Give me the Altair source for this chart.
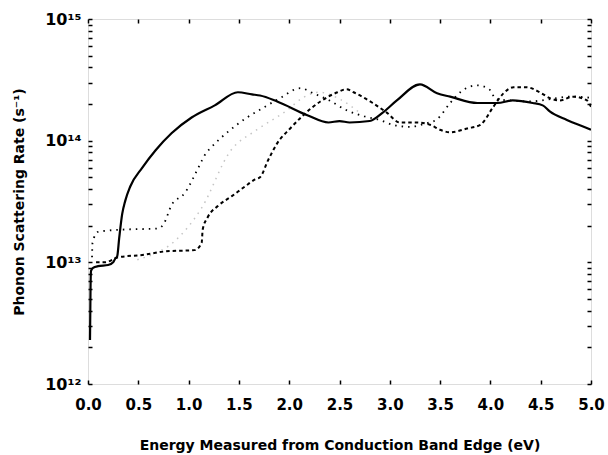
import altair as alt
import pandas as pd

# ---- data ----
solid_e = [0.02, 0.025, 0.03, 0.05, 0.10, 0.20, 0.25, 0.27, 0.29, 0.31, 0.34, 0.37, 0.42, 0.54, 0.67,
           0.83, 1.03, 1.26, 1.49, 1.63, 1.71, 1.88, 2.18, 2.39, 2.50, 2.60, 2.80, 2.93, 3.07, 3.30,
           3.47, 3.60, 3.87, 4.07, 4.22, 4.42, 4.52, 4.59, 4.76, 4.97, 5.00]
solid_r = [2.3e12, 6.0e12, 8.5e12, 9.0e12, 9.3e12, 9.5e12, 1.0e13, 1.07e13, 1.12e13, 1.58e13, 2.5e13,
           3.2e13, 4.2e13, 6.0e13, 8.3e13, 1.15e14, 1.55e14, 1.95e14, 2.5e14, 2.4e14, 2.35e14, 2.1e14,
           1.62e14, 1.41e14, 1.45e14, 1.41e14, 1.45e14, 1.7e14, 2.14e14, 2.9e14, 2.45e14, 2.3e14,
           2.04e14, 2.04e14, 2.14e14, 2.04e14, 1.95e14, 1.74e14, 1.48e14, 1.26e14, 1.23e14]

dotted_e = [0.04, 0.045, 0.10, 0.30, 0.70, 0.75, 0.83, 0.96, 1.11, 1.16, 1.23, 1.39, 1.58, 1.74, 1.91,
            2.11, 2.24, 2.40, 2.57, 2.75, 2.90, 3.03, 3.20, 3.35, 3.47, 3.60, 3.70, 3.87, 4.00, 4.05,
            4.20, 4.40, 4.60, 4.80, 5.00]
dotted_r = [1.1e13, 1.45e13, 1.78e13, 1.85e13, 1.9e13, 2.05e13, 2.95e13, 3.7e13, 6.3e13, 7.6e13, 8.9e13,
            1.18e14, 1.55e14, 1.86e14, 2.24e14, 2.7e14, 2.45e14, 2.14e14, 1.78e14, 1.58e14, 1.48e14,
            1.35e14, 1.3e14, 1.38e14, 1.5e14, 2.04e14, 2.5e14, 2.85e14, 2.6e14, 2.2e14, 2.14e14,
            2.1e14, 2.2e14, 2.3e14, 2.25e14]

dashed_e = [0.08, 0.17, 0.30, 0.54, 0.77, 1.06, 1.13, 1.14, 1.19, 1.29, 1.43, 1.56, 1.66, 1.71, 1.79,
            1.88, 2.01, 2.14, 2.31, 2.48, 2.57, 2.64, 2.83, 2.97, 3.10, 3.27, 3.40, 3.50, 3.60, 3.77,
            3.90, 4.03, 4.13, 4.23, 4.36, 4.49, 4.59, 4.69, 4.82, 4.96, 5.00]
dashed_r = [1.0e13, 1.0e13, 1.1e13, 1.15e13, 1.23e13, 1.26e13, 1.45e13, 1.86e13, 2.35e13, 2.9e13, 3.5e13,
            4.2e13, 4.8e13, 5.0e13, 6.9e13, 9.5e13, 1.26e14, 1.62e14, 2.1e14, 2.5e14, 2.65e14, 2.5e14,
            2.04e14, 1.7e14, 1.41e14, 1.41e14, 1.35e14, 1.23e14, 1.17e14, 1.26e14, 1.35e14, 1.9e14,
            2.45e14, 2.75e14, 2.75e14, 2.5e14, 2.24e14, 2.14e14, 2.3e14, 2.14e14, 1.9e14]

faint_e = [0.49, 0.90, 1.13, 1.41, 1.68, 1.98, 2.13, 2.30, 2.50, 2.70]
faint_r = [1.05e13, 1.6e13, 2.8e13, 8.1e13, 1.23e14, 1.78e14, 2.24e14, 2.5e14, 2.2e14, 1.7e14]

x_ticks = [0.0, 0.5, 1.0, 1.5, 2.0, 2.5, 3.0, 3.5, 4.0, 4.5, 5.0]
y_major = [1e12, 1e13, 1e14, 1e15]
y_minor = [m * d for d in [1e12, 1e13, 1e14] for m in range(2, 10)]

rows = []
for name, es, rs in [("solid", solid_e, solid_r), ("dotted", dotted_e, dotted_r),
                     ("dashed", dashed_e, dashed_r), ("faint", faint_e, faint_r)]:
    for i, (e, r) in enumerate(zip(es, rs)):
        rows.append({"series": name, "E": e, "rate": r, "i": i})
df = pd.DataFrame(rows)

W, H = 503, 365
FONT = "DejaVu Sans"

xs = alt.Scale(domain=[0, 5], nice=False, zero=False)
ys = alt.Scale(type="log", domain=[1e12, 1e15], nice=False)

base = alt.Chart(df)

def series(name, color, width, dash=None):
    kw = dict(color=color, strokeWidth=width, clip=True, interpolate="monotone")
    if dash:
        kw["strokeDash"] = dash
    return base.transform_filter(alt.datum.series == name).mark_line(**kw).encode(
        x=alt.X("E:Q", scale=xs, axis=None),
        y=alt.Y("rate:Q", scale=ys, axis=None),
        order="i:Q",
    )

label_expr = ("datum.value > 5e14 ? '10¹⁵' : datum.value > 5e13 ? '10¹⁴' : "
              "datum.value > 5e12 ? '10¹³' : '10¹²'")

main = base.mark_point(opacity=0).encode(
    x=alt.X("E:Q", scale=xs, axis=alt.Axis(
        orient="bottom", values=x_ticks, format=".1f", ticks=False, domain=False, grid=False,
        labelFlush=False, labelOverlap=False,
        labelFont=FONT, labelFontSize=15, labelFontWeight="bold", labelPadding=13, labelColor="black",
        title="Energy Measured from Conduction Band Edge (eV)", titleFont=FONT, titleFontSize=14,
        titleFontWeight="bold", titlePadding=26, titleColor="black")),
    y=alt.Y("rate:Q", scale=ys, axis=alt.Axis(
        orient="left", values=y_major, labelExpr=label_expr, ticks=False, domain=False, grid=False,
        labelFlush=False, labelOverlap=False,
        labelFont=FONT, labelFontSize=16, labelFontWeight="bold", labelPadding=7, labelColor="black",
        title="Phonon Scattering Rate (s⁻¹)", titleFont=FONT, titleFontSize=14,
        titleFontWeight="bold", titlePadding=18, titleColor="black")),
)

tick_common = dict(labels=False, domain=False, grid=False, ticks=True, tickColor="black",
                   tickWidth=1.5, tickSize=4, title=None)

ticks_a = base.mark_point(opacity=0).encode(
    x=alt.X("E:Q", scale=xs, axis=alt.Axis(orient="top", offset=-H, values=x_ticks, **tick_common)),
    y=alt.Y("rate:Q", scale=ys, axis=alt.Axis(orient="right", offset=-W, values=y_major + y_minor, **tick_common)),
)
ticks_b = base.mark_point(opacity=0).encode(
    x=alt.X("E:Q", scale=xs, axis=alt.Axis(orient="bottom", offset=-H, values=x_ticks, **tick_common)),
    y=alt.Y("rate:Q", scale=ys, axis=alt.Axis(orient="left", offset=-W, values=y_major + y_minor, **tick_common)),
)

chart = alt.layer(
    main, ticks_a, ticks_b,
    series("faint", "#c4c4c4", 1.5, [1.5, 5]),
    series("dashed", "black", 2, [3.5, 3]),
    series("dotted", "black", 1.8, [1.5, 5]),
    series("solid", "black", 2.2),
).resolve_axis(x="independent", y="independent").properties(
    width=W, height=H,
    autosize=alt.AutoSizeParams(type="none"),
    padding={"left": 88, "top": 19, "right": 17, "bottom": 71},
).configure_view(stroke="black", strokeWidth=2).configure(background="white")

chart.save("out.html", embed_options={"renderer": "svg", "actions": False})
